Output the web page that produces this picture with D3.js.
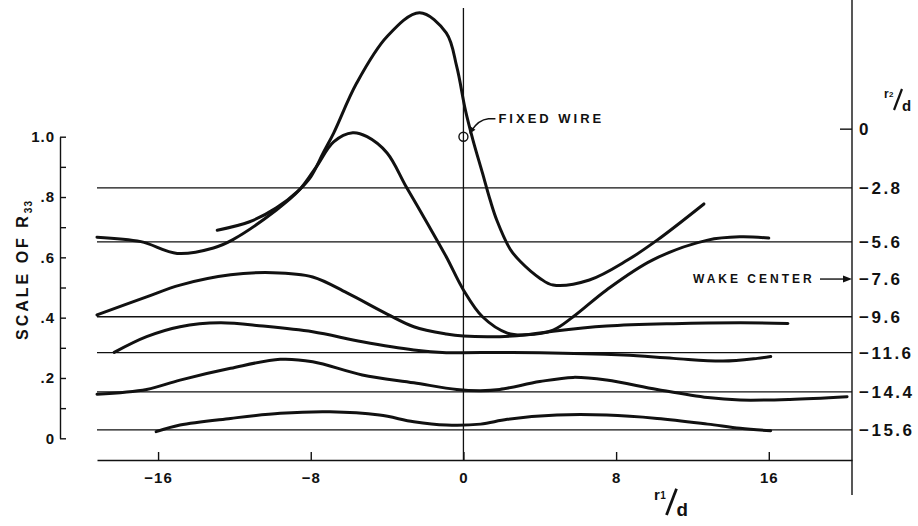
<!DOCTYPE html>
<html>
<head>
<meta charset="utf-8">
<script src="https://cdn.jsdelivr.net/npm/d3@7"></script>
<style>
body{margin:0;background:#fff;}
svg{display:block;font-family:"Liberation Sans",Arial,sans-serif;font-weight:bold;fill:#111;}
.axis path,.axis line{stroke:#111;stroke-width:1.4;}
.axis text{font-size:15px;letter-spacing:1px;fill:#111;}
</style>
</head>
<body>
<div id="chart"></div>
<script>
// traverses: [r1/d, R33 on the left scale], one array per r2/d position
const curveTall = [[-12.9,0.69],[-11.2,0.718],[-9.8,0.764],[-8.7,0.818],[-8.0,0.867],[-7.35,0.946],[-6.8,1.012],[-5.6,1.177],[-4.0,1.332],[-2.3,1.411],[-0.9,1.344],[-0.35,1.232],[0.1,1.089],[0.5,0.989],[1.0,0.879],[1.4,0.79],[1.75,0.723],[2.45,0.627],[2.97,0.587],[4.0,0.531],[4.7,0.508],[6.6,0.525],[8.6,0.591],[10.15,0.657],[12.6,0.777]];
const curvePeak = [[-19.2,0.667],[-16.9,0.652],[-15.0,0.613],[-13.1,0.631],[-12.1,0.658],[-9.8,0.757],[-8.6,0.823],[-7.7,0.901],[-6.8,0.983],[-5.8,1.013],[-5.05,1.0],[-4.0,0.946],[-3.0,0.834],[-1.9,0.714],[-0.9,0.602],[0,0.492],[1.0,0.403],[2.3,0.349],[3.3,0.343],[4.7,0.359],[5.75,0.403],[7.5,0.492],[9.9,0.591],[12.8,0.657],[14.5,0.668],[16.0,0.664]];
const curveMid = [[-19.2,0.409],[-16.6,0.469],[-14.85,0.508],[-12.2,0.542],[-10.0,0.549],[-7.9,0.535],[-6.1,0.482],[-4.0,0.412],[-2.6,0.37],[-0.9,0.346],[0,0.339],[1.9,0.337],[3.3,0.343],[4.7,0.355],[7.5,0.372],[11.0,0.38],[14.5,0.383],[17.0,0.381]];
const curveFour = [[-18.3,0.285],[-16.6,0.337],[-14.85,0.37],[-12.75,0.383],[-10.5,0.372],[-7.9,0.353],[-5.3,0.32],[-2.6,0.293],[-0.9,0.284],[0,0.284],[4.0,0.284],[8.4,0.276],[11.0,0.265],[13.6,0.256],[15.4,0.265],[16.1,0.271]];
const curveFive = [[-19.2,0.146],[-16.6,0.162],[-14.85,0.193],[-12.2,0.232],[-9.6,0.262],[-7.9,0.254],[-5.3,0.21],[-2.6,0.184],[-0.35,0.162],[0.9,0.158],[1.9,0.162],[4.0,0.188],[5.75,0.202],[7.5,0.193],[10.15,0.162],[12.8,0.135],[14.5,0.127],[17.1,0.129],[20.1,0.138]];
const curveLow = [[-16.1,0.022],[-14.85,0.044],[-12.2,0.066],[-9.6,0.083],[-7.0,0.088],[-4.4,0.077],[-2.6,0.055],[-0.9,0.044],[0.9,0.047],[2.3,0.063],[4.9,0.077],[7.5,0.077],[10.15,0.066],[12.8,0.047],[14.5,0.033],[16.1,0.025]];

// r2/d stations and where their base lines sit on the R33 scale
const r2Labels = ['0','\u22122.8','\u22125.6','\u22127.6','\u22129.6','\u221211.6','\u221214.4','\u221215.6'];
const r2Levels = [1.025,0.83,0.651,0.528,0.403,0.284,0.154,0.028];

const xTicks = [-16,-8,0,8,16];
const yTicks = [0,0.1,0.2,0.3,0.4,0.5,0.6,0.7,0.8,0.9,1.0];

const width = 918, height = 526;

const svg = d3.select('#chart').append('svg')
	.attr('width',width)
	.attr('height',height);

const x = d3.scaleLinear().domain([-19.2,20.36]).range([97,852]);
const y = d3.scaleLinear().domain([0,1]).range([438.3,136.7]);
const xEnd = x.range()[1];
const yBase = 460;

//base lines for each traverse
svg.append('g').selectAll('line')
	.data(r2Levels.filter((d,i) => i > 0 && r2Labels[i] !== '\u22127.6'))
	.enter().append('line')
	.attr('x1',x.range()[0]).attr('x2',xEnd)
	.attr('y1',d => y(d)).attr('y2',d => y(d))
	.style('stroke','#111').style('stroke-width',1.3);

//r1 = 0 line and the right hand r2 axis
svg.append('line')
	.attr('x1',x(0)).attr('x2',x(0)).attr('y1',8).attr('y2',yBase)
	.style('stroke','#111').style('stroke-width',1.3);
svg.append('line')
	.attr('x1',xEnd).attr('x2',xEnd).attr('y1',0).attr('y2',495)
	.style('stroke','#111').style('stroke-width',1.4);
svg.append('line')
	.attr('x1',xEnd-12).attr('x2',xEnd)
	.attr('y1',y(r2Levels[0])).attr('y2',y(r2Levels[0]))
	.style('stroke','#111').style('stroke-width',1.4);

svg.append('g').selectAll('text')
	.data(r2Labels)
	.enter().append('text')
	.attr('x',xEnd+7)
	.attr('y',(d,i) => y(r2Levels[i]))
	.attr('dy','0.36em')
	.style('font-size','17px')
	.style('letter-spacing','2.5px')
	.text(d => d);

//left axis
const axisY = d3.axisLeft(y)
	.tickValues(yTicks)
	.tickSize(-6)
	.tickSizeOuter(0)
	.tickPadding(5)
	.tickFormat((d,i) => i % 2 ? '' : (d === 0 ? '0' : d === 1 ? '1.0' : d3.format('.1f')(d).slice(1)));
svg.append('g').attr('class','axis')
	.attr('transform','translate(60,0)')
	.call(axisY);

//bottom axis
const axisX = d3.axisBottom(x)
	.tickValues(xTicks)
	.tickSize(-8)
	.tickSizeOuter(0)
	.tickPadding(12)
	.tickFormat(d => d < 0 ? '\u2212' + Math.abs(d) : d);
svg.append('g').attr('class','axis')
	.attr('transform',`translate(0,${yBase})`)
	.call(axisX);

//curves
const line = d3.line()
	.x(d => x(d[0]))
	.y(d => y(d[1]))
	.curve(d3.curveCatmullRom.alpha(0.5));

svg.append('g').selectAll('path')
	.data([curveTall,curvePeak,curveMid,curveFour,curveFive,curveLow])
	.enter().append('path')
	.attr('d',line)
	.style('fill','none')
	.style('stroke','#111')
	.style('stroke-width',3)
	.style('stroke-linecap','round');

//fixed wire
const cx = x(0), cy = y(1);
svg.append('circle')
	.attr('cx',cx).attr('cy',cy).attr('r',4.5)
	.style('fill','none').style('stroke','#111').style('stroke-width',1.4);
svg.append('path')
	.attr('d',`M${cx+32},${cy-18} L${cx+25},${cy-18} Q${cx+15},${cy-17} ${cx+8},${cy-6}`)
	.style('fill','none').style('stroke','#111').style('stroke-width',1.4);
svg.append('path')
	.attr('d',`M${cx+6},${cy-3} L${cx+6},${cy-11} L${cx+12},${cy-7} Z`)
	.style('fill','#111');
svg.append('text')
	.attr('x',cx+35).attr('y',cy-18).attr('dy','0.36em')
	.style('font-size','13px').style('letter-spacing','3px')
	.text('FIXED WIRE');

//wake center
const wy = y(r2Levels[3]);
svg.append('text')
	.attr('x',693).attr('y',wy).attr('dy','0.36em')
	.style('font-size','12px').style('letter-spacing','3px')
	.text('WAKE CENTER');
svg.append('line')
	.attr('x1',xEnd-32).attr('x2',xEnd-6).attr('y1',wy).attr('y2',wy)
	.style('stroke','#111').style('stroke-width',1.4);
svg.append('path')
	.attr('d',`M${xEnd},${wy} L${xEnd-9},${wy-3.5} L${xEnd-9},${wy+3.5} Z`)
	.style('fill','#111');

//axis titles
svg.append('text')
	.attr('transform','translate(28,270) rotate(-90)')
	.attr('text-anchor','middle')
	.style('font-size','16px').style('letter-spacing','3px')
	.text('SCALE OF R')
	.append('tspan')
	.attr('dy','4').style('font-size','10px').style('letter-spacing','1px')
	.text('33');

// r/d labels: small r with index, a long slash, d dropped below
function ratioLabel(px,py,sub,s){
	const g = svg.append('g').attr('transform',`translate(${px},${py}) scale(${s})`);
	g.append('text').attr('x',0).attr('y',0).style('font-size','12px').text('r');
	g.append('text').attr('x',5).attr('y',-1).style('font-size','8px').text(sub);
	g.append('line').attr('x1',10).attr('y1',12).attr('x2',18).attr('y2',-9)
		.style('stroke','#111').style('stroke-width',2.2);
	g.append('text').attr('x',18).attr('y',13).style('font-size','15px').text('d');
}
ratioLabel(884,98,'2',1);
ratioLabel(654,500,'1',1.25);
</script>
</body>
</html>
